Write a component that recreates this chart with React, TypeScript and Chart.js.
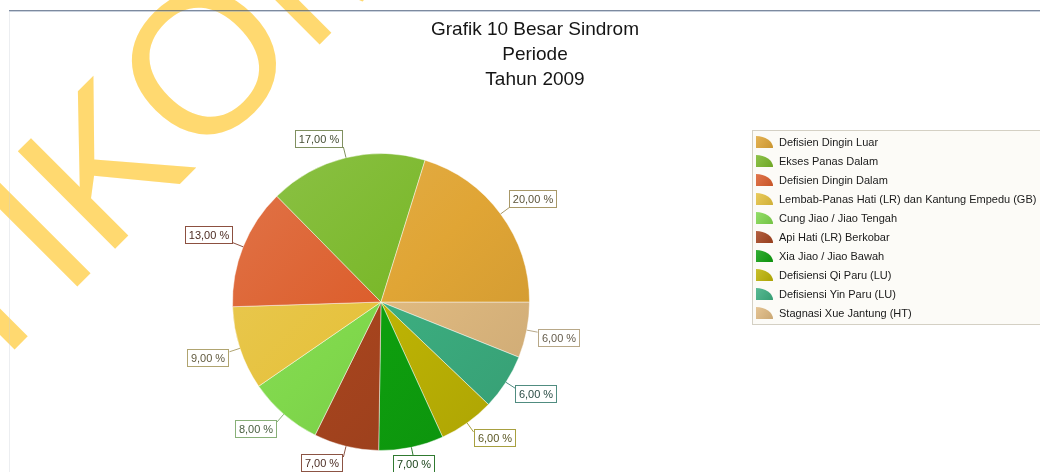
import { useEffect, useRef } from "react";
import { Chart, registerables } from "chart.js";

Chart.register(...registerables);

const TITLE_LINES = ["Grafik 10 Besar Sindrom", "Periode", "Tahun 2009"];
const WATERMARK = "STIKOM";

const LABELS = [
  "Defisien Dingin Luar",
  "Ekses Panas Dalam",
  "Defisien Dingin Dalam",
  "Lembab-Panas Hati (LR) dan Kantung Empedu (GB)",
  "Cung Jiao / Jiao Tengah",
  "Api Hati (LR) Berkobar",
  "Xia Jiao / Jiao Bawah",
  "Defisiensi Qi Paru (LU)",
  "Defisiensi Yin Paru (LU)",
  "Stagnasi Xue Jantung (HT)",
];
const VALUES = [20, 17, 13, 9, 8, 7, 7, 6, 6, 6];

const COLORS = [
  "#E0A535",
  "#7AB82A",
  "#DC5E2C",
  "#E6C23E",
  "#80D84C",
  "#A6441E",
  "#0EA00E",
  "#BEB404",
  "#3CAE80",
  "#E0BA80",
];
const LABEL_BORDERS = [
  "#A89868",
  "#809060",
  "#8C5040",
  "#B0A470",
  "#88B078",
  "#8C5444",
  "#307A30",
  "#A8A040",
  "#508C80",
  "#B8A888",
];

// chart draws clockwise; reference runs counter-clockwise from east
const ORDER = VALUES.map((_, i) => VALUES.length - 1 - i);

function hexToRgb(h: string) {
  const n = parseInt(h.slice(1), 16);
  return [(n >> 16) & 255, (n >> 8) & 255, n & 255];
}
function mix(h: string, target: number, t: number) {
  const [r, g, b] = hexToRgb(h);
  const f = (c: number) => Math.round(c + (target - c) * t);
  return `rgb(${f(r)},${f(g)},${f(b)})`;
}
const fmt = (v: number) => v.toFixed(2).replace(".", ",") + " %";

const FONT = '"Liberation Sans", Arial, sans-serif';

const overlayPlugin = {
  id: "overlay",
  afterDatasetsDraw(chart: any) {
    const ctx = chart.ctx;
    const meta = chart.getDatasetMeta(0);
    ctx.save();
    ctx.font = `11px ${FONT}`;
    meta.data.forEach((arc: any, j: number) => {
      const i = ORDER[j];
      const p = arc.getProps(["x", "y", "startAngle", "endAngle", "outerRadius"], true);
      const mid = (p.startAngle + p.endAngle) / 2;
      const dx = Math.cos(mid);
      const dy = Math.sin(mid);
      const ex = p.x + dx * p.outerRadius;
      const ey = p.y + dy * p.outerRadius;
      const px = p.x + dx * (p.outerRadius + 11);
      const py = p.y + dy * (p.outerRadius + 11);
      const text = fmt(VALUES[i]);
      const tw = ctx.measureText(text).width;
      const w = Math.round(tw + 8);
      const h = 18;
      let bx = Math.abs(dx) < 0.22 ? px - w / 2 : dx > 0 ? px : px - w;
      let by = dy > 0 ? py - 3 : py - h + 1;
      bx = Math.round(bx);
      by = Math.round(by);
      const bc = LABEL_BORDERS[i];
      ctx.strokeStyle = bc;
      ctx.lineWidth = 1;
      ctx.beginPath();
      ctx.moveTo(ex, ey);
      ctx.lineTo(px, py);
      ctx.stroke();
      ctx.fillStyle = "#ffffff";
      ctx.fillRect(bx, by, w, h);
      ctx.strokeRect(bx + 0.5, by + 0.5, w - 1, h - 1);
      ctx.fillStyle = mix(bc, 0, 0.45);
      ctx.textAlign = "center";
      ctx.textBaseline = "middle";
      ctx.fillText(text, bx + w / 2, by + h / 2 + 0.5);
    });
    ctx.restore();
  },
  afterDraw(chart: any) {
    const ctx = chart.ctx;
    ctx.save();
    // title
    ctx.fillStyle = "#151515";
    ctx.font = `19px ${FONT}`;
    ctx.textAlign = "center";
    ctx.textBaseline = "middle";
    TITLE_LINES.forEach((t, k) => ctx.fillText(t, 535, 30 + k * 25));

    // legend
    ctx.fillStyle = "#FCFBF7";
    ctx.fillRect(752, 130, 300, 195);
    ctx.strokeStyle = "#D4D0C4";
    ctx.lineWidth = 1;
    ctx.strokeRect(752.5, 130.5, 300, 194);
    ctx.font = `11px ${FONT}`;
    ctx.textAlign = "left";
    ctx.textBaseline = "middle";
    LABELS.forEach((lab, i) => {
      const cy = 142.5 + i * 19;
      const x0 = 756;
      const top = cy - 6.5;
      const bot = cy + 5.5;
      const g = ctx.createLinearGradient(x0, top, x0 + 17, bot);
      g.addColorStop(0, mix(COLORS[i], 255, 0.15));
      g.addColorStop(1, mix(COLORS[i], 0, 0.1));
      ctx.fillStyle = g;
      ctx.beginPath();
      ctx.moveTo(x0, bot);
      ctx.lineTo(x0, top);
      ctx.ellipse(x0, bot, 17, 12, 0, -Math.PI / 2, 0);
      ctx.closePath();
      ctx.fill();
      ctx.fillStyle = "#1a1a1a";
      ctx.fillText(lab, 779, cy + 0.5);
    });

    // watermark
    ctx.save();
    ctx.translate(202, 60);
    ctx.rotate(-Math.PI / 4);
    const F = 200;
    ctx.font = `${F}px ${FONT}`;
    ctx.textAlign = "left";
    ctx.textBaseline = "alphabetic";
    const pre = ctx.measureText(WATERMARK.slice(0, 4)).width;
    const oW = ctx.measureText(WATERMARK.slice(4, 5)).width;
    ctx.fillStyle = "rgba(255,214,100,0.92)";
    ctx.fillText(WATERMARK, -(pre + oW / 2), F * 0.36);
    ctx.restore();

    // top rule
    ctx.fillStyle = "rgba(70,88,118,0.7)";
    ctx.fillRect(9, 10, 1031, 1);
    ctx.fillStyle = "rgba(150,166,190,0.5)";
    ctx.fillRect(9, 11, 1031, 1);
    ctx.fillStyle = "rgba(200,205,215,0.35)";
    ctx.fillRect(9, 12, 1, 460);
    ctx.restore();
  },
};

export default function App() {
  const ref = useRef<HTMLCanvasElement | null>(null);
  useEffect(() => {
    if (!ref.current) return;
    const chart = new Chart(ref.current, {
      type: "pie",
      data: {
        labels: ORDER.map((i) => LABELS[i]),
        datasets: [
          {
            data: ORDER.map((i) => VALUES[i]),
            backgroundColor: (c: any) => {
              const i = ORDER[c.dataIndex];
              const a = c.chart.chartArea;
              if (!a) return COLORS[i];
              const g = c.chart.ctx.createLinearGradient(a.left, a.top, a.right, a.bottom);
              g.addColorStop(0, mix(COLORS[i], 255, 0.14));
              g.addColorStop(0.5, COLORS[i]);
              g.addColorStop(1, mix(COLORS[i], 0, 0.1));
              return g;
            },
            borderColor: "rgba(255,255,255,0.45)",
            borderWidth: 1,
          },
        ],
      },
      options: {
        responsive: false,
        animation: false,
        devicePixelRatio: 1,
        rotation: 90,
        layout: { padding: { left: 232, right: 510, top: 153, bottom: 21 } },
        plugins: {
          legend: { display: false },
          title: { display: false },
          tooltip: { enabled: false },
        },
      },
      plugins: [overlayPlugin],
    });
    return () => chart.destroy();
  }, []);
  return (
    <div style={{ position: "absolute", left: 0, top: 0, width: 1040, height: 472, background: "#fff" }}>
      <canvas ref={ref} width={1040} height={472} style={{ display: "block" }} />
    </div>
  );
}
